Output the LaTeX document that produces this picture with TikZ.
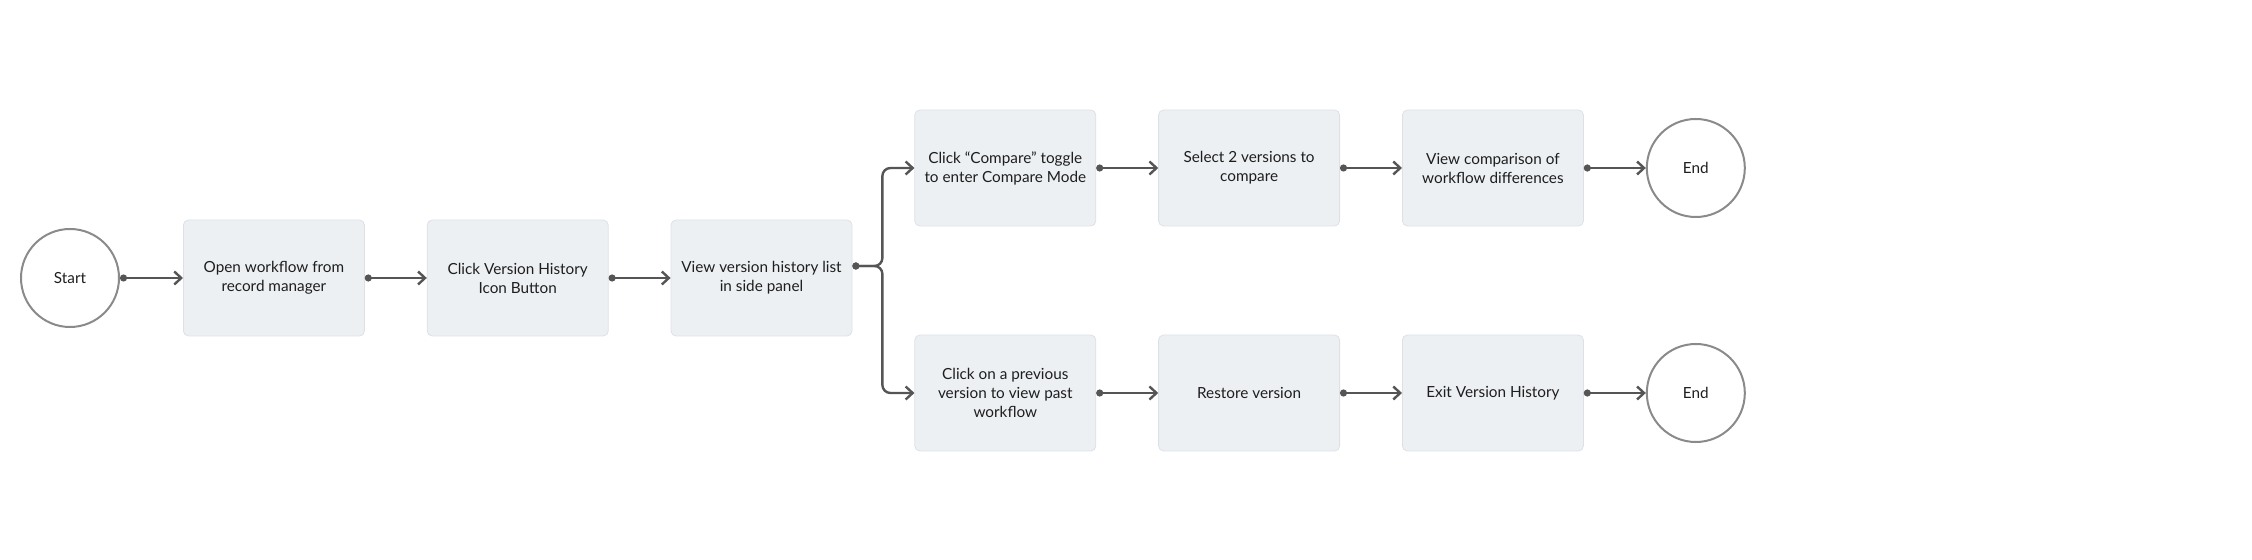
\documentclass[tikz,border=0pt]{standalone}
\usepackage{fontspec}
\setmainfont{Lato}
\usetikzlibrary{arrows.meta, positioning}
\definecolor{boxfill}{HTML}{EDF0F3}
\definecolor{boxline}{HTML}{DDE1E6}
\definecolor{flowgray}{HTML}{555555}
\definecolor{termgray}{HTML}{8A8A8A}
\definecolor{textdark}{HTML}{1E1E1E}

\tikzset{
  stepbox/.style={rectangle, rounded corners=2.5pt, draw=boxline, fill=boxfill,
      line width=0.4pt, minimum width=90.5pt, minimum height=58pt,
      align=center, font=\fontsize{7.65}{9.5}\selectfont, text=textdark, inner sep=2pt},
  terminal/.style={circle, draw=termgray, line width=1pt, minimum size=49pt,
      inner sep=0pt, font=\fontsize{7.65}{9.5}\selectfont, text=textdark},
  flow/.style={draw=flowgray, line width=1.2pt,
      arrows={Circle[length=3.5pt]-Straight Barb[length=3.5pt,width=6.5pt]}}
}

\begin{document}
\begin{tikzpicture}[x=0.5pt, y=-0.5pt, node distance=31pt]
\useasboundingbox (0,0) rectangle (2252,560);

% main row
\node[terminal] (start) at (70,278) {Start};
\node[stepbox, right=31.5pt of start] (open) {Open workflow from\\record manager};
\node[stepbox, right=of open] (clickvh) {Click Version History\\Icon Button};
\node[stepbox, right=of clickvh] (viewlist) {View version history list\\in side panel};

% compare branch
\node[stepbox, right=of viewlist, yshift=55pt] (cmpmode) {Click “Compare” toggle\\to enter Compare Mode};
\node[stepbox, right=of cmpmode] (pick) {Select 2 versions to\\compare};
\node[stepbox, right=of pick] (diff) {View comparison of\\workflow differences};
\node[terminal, right=of diff] (endcmp) {End};

% restore branch
\node[stepbox, right=of viewlist, yshift=-57.5pt] (prev) {Click on a previous\\version to view past\\workflow};
\node[stepbox, right=of prev] (restore) {Restore version};
\node[stepbox, right=of restore] (exitvh) {Exit Version History};
\node[terminal, right=of exitvh] (endres) {End};

\draw[flow] (start) -- (open);
\draw[flow] (open) -- (clickvh);
\draw[flow] (clickvh) -- (viewlist);
\draw[flow, rounded corners=4pt] ([yshift=6pt]viewlist.east) -- ++(15pt,0) |- (cmpmode.west);
\draw[flow, rounded corners=4pt] ([yshift=6pt]viewlist.east) -- ++(15pt,0) |- (prev.west);
\draw[flow] (cmpmode) -- (pick);
\draw[flow] (pick) -- (diff);
\draw[flow] (diff) -- (endcmp);
\draw[flow] (prev) -- (restore);
\draw[flow] (restore) -- (exitvh);
\draw[flow] (exitvh) -- (endres);
\end{tikzpicture}
\end{document}
